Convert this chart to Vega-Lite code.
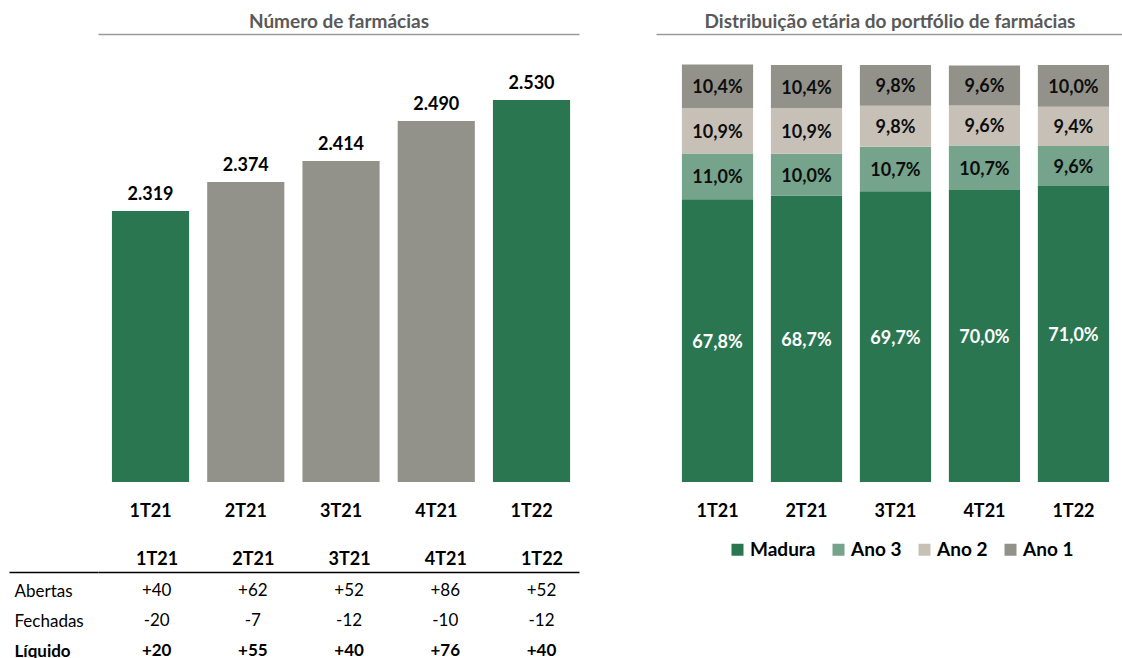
{
  "$schema": "https://vega.github.io/schema/vega-lite/v6.json",
  "padding": {"left": 8, "top": 12, "right": 0, "bottom": 0},
  "background": "white",
  "config": {
    "font": "Lato",
    "view": {"stroke": null},
    "axis": {"grid": false},
    "locale": {"number": {"decimal": ",", "thousands": ".", "grouping": [3], "currency": ["R$ ", ""]}}
  },
  "datasets": {
    "farmacias": [
      {"trimestre": "1T21", "total": 2319},
      {"trimestre": "2T21", "total": 2374},
      {"trimestre": "3T21", "total": 2414},
      {"trimestre": "4T21", "total": 2490},
      {"trimestre": "1T22", "total": 2530}
    ],
    "tabela": [
      {"trimestre": "1T21", "linha": "Abertas", "valor": "+40"},
      {"trimestre": "2T21", "linha": "Abertas", "valor": "+62"},
      {"trimestre": "3T21", "linha": "Abertas", "valor": "+52"},
      {"trimestre": "4T21", "linha": "Abertas", "valor": "+86"},
      {"trimestre": "1T22", "linha": "Abertas", "valor": "+52"},
      {"trimestre": "1T21", "linha": "Fechadas", "valor": "-20"},
      {"trimestre": "2T21", "linha": "Fechadas", "valor": "-7"},
      {"trimestre": "3T21", "linha": "Fechadas", "valor": "-12"},
      {"trimestre": "4T21", "linha": "Fechadas", "valor": "-10"},
      {"trimestre": "1T22", "linha": "Fechadas", "valor": "-12"},
      {"trimestre": "1T21", "linha": "Líquido", "valor": "+20"},
      {"trimestre": "2T21", "linha": "Líquido", "valor": "+55"},
      {"trimestre": "3T21", "linha": "Líquido", "valor": "+40"},
      {"trimestre": "4T21", "linha": "Líquido", "valor": "+76"},
      {"trimestre": "1T22", "linha": "Líquido", "valor": "+40"}
    ],
    "idade": [
      {"trimestre": "1T21", "faixa": "Madura", "pct": 0.678},
      {"trimestre": "1T21", "faixa": "Ano 3", "pct": 0.110},
      {"trimestre": "1T21", "faixa": "Ano 2", "pct": 0.109},
      {"trimestre": "1T21", "faixa": "Ano 1", "pct": 0.104},
      {"trimestre": "2T21", "faixa": "Madura", "pct": 0.687},
      {"trimestre": "2T21", "faixa": "Ano 3", "pct": 0.100},
      {"trimestre": "2T21", "faixa": "Ano 2", "pct": 0.109},
      {"trimestre": "2T21", "faixa": "Ano 1", "pct": 0.104},
      {"trimestre": "3T21", "faixa": "Madura", "pct": 0.697},
      {"trimestre": "3T21", "faixa": "Ano 3", "pct": 0.107},
      {"trimestre": "3T21", "faixa": "Ano 2", "pct": 0.098},
      {"trimestre": "3T21", "faixa": "Ano 1", "pct": 0.098},
      {"trimestre": "4T21", "faixa": "Madura", "pct": 0.700},
      {"trimestre": "4T21", "faixa": "Ano 3", "pct": 0.107},
      {"trimestre": "4T21", "faixa": "Ano 2", "pct": 0.096},
      {"trimestre": "4T21", "faixa": "Ano 1", "pct": 0.096},
      {"trimestre": "1T22", "faixa": "Madura", "pct": 0.710},
      {"trimestre": "1T22", "faixa": "Ano 3", "pct": 0.096},
      {"trimestre": "1T22", "faixa": "Ano 2", "pct": 0.094},
      {"trimestre": "1T22", "faixa": "Ano 1", "pct": 0.100}
    ]
  },
  "spacing": 77,
  "hconcat": [
    {
      "spacing": 30,
      "align": "all",
      "vconcat": [
        {
          "width": 481,
          "height": 448,
          "data": {"name": "farmacias"},
          "layer": [
            {
              "mark": {"type": "bar"},
              "encoding": {
                "x": {"field": "trimestre", "type": "nominal", "sort": null,
                  "scale": {"paddingInner": 0.19, "paddingOuter": 0.12, "align": 0.61},
                  "axis": {"orient": "bottom", "title": null, "ticks": false, "domain": false, "labelAngle": 0,
                    "labelFontSize": 18, "labelFontWeight": "bold", "labelColor": "black", "labelPadding": 20}},
                "y": {"field": "total", "type": "quantitative",
                  "scale": {"domain": [1805, 2655], "zero": false, "nice": false, "clamp": true}, "axis": null},
                "color": {"field": "trimestre", "type": "nominal",
                  "scale": {"domain": ["1T21", "2T21", "3T21", "4T21", "1T22"],
                    "range": ["#2A7650", "#92928A", "#92928A", "#92928A", "#2A7650"]},
                  "legend": null}
              }
            },
            {
              "mark": {"type": "text", "dy": -16, "fontSize": 18, "fontWeight": "bold", "color": "black"},
              "encoding": {
                "x": {"field": "trimestre", "type": "nominal", "sort": null,
                  "axis": {"orient": "top", "title": "Número de farmácias", "labels": false, "ticks": false,
                    "domain": true, "domainColor": "#9A9A9A", "domainWidth": 1.5,
                    "titleFontSize": 19, "titleFontWeight": "bold", "titleColor": "#595959", "titlePadding": 3}},
                "y": {"field": "total", "type": "quantitative"},
                "text": {"field": "total", "type": "quantitative", "format": ",d"}
              }
            }
          ],
          "resolve": {"axis": {"x": "independent"}}
        },
        {
          "width": 481,
          "height": 90,
          "data": {"name": "tabela"},
          "encoding": {
            "x": {"field": "trimestre", "type": "nominal", "sort": null,
              "scale": {"paddingInner": 0.19, "paddingOuter": 0.12, "align": 0.61},
              "axis": {"orient": "top", "title": null, "ticks": false, "domain": true, "domainColor": "black",
                "domainWidth": 1.5, "labelAngle": 0, "labelFontSize": 18, "labelFontWeight": "bold",
                "labelColor": "black", "labelPadding": 4}},
            "y": {"field": "linha", "type": "nominal", "sort": ["Abertas", "Fechadas", "Líquido"],
              "scale": {"type": "band", "paddingInner": 0, "paddingOuter": 0},
              "axis": {"title": null, "domain": false, "ticks": true, "tickSize": 89, "tickBand": "extent",
                "tickWidth": 1.5,
                "tickColor": {"condition": {"test": "datum.index < 0", "value": "black"}, "value": "transparent"},
                "labelAlign": "left", "labelPadding": -5, "labelFontSize": 17, "labelColor": "black",
                "labelFontWeight": {"condition": {"test": "datum.value === 'Líquido'", "value": "bold"}, "value": "normal"},
                "labelOffset": 4, "labelBaseline": "middle"}},
            "text": {"field": "valor", "type": "nominal"}
          },
          "layer": [
            {
              "transform": [{"filter": "datum.linha !== 'Líquido'"}],
              "mark": {"type": "text", "fontSize": 17, "dy": 4, "color": "black"}
            },
            {
              "transform": [{"filter": "datum.linha === 'Líquido'"}],
              "mark": {"type": "text", "fontSize": 17, "fontWeight": "bold", "dy": 4, "color": "black"}
            }
          ]
        }
      ]
    },
    {
      "width": 467,
      "height": 448,
      "data": {"name": "idade"},
      "layer": [
        {
          "mark": {"type": "bar"},
          "encoding": {
            "x": {"field": "trimestre", "type": "nominal", "sort": null,
              "scale": {"paddingInner": 0.2, "paddingOuter": 0.224, "align": 0.65},
              "axis": {"orient": "bottom", "title": null, "ticks": false, "domain": false, "labelAngle": 0,
                "labelFontSize": 18, "labelFontWeight": "bold", "labelColor": "black", "labelPadding": 20}},
            "y": {"field": "pct", "type": "quantitative", "stack": "zero",
              "scale": {"domain": [0, 1.0743], "nice": false}, "axis": null},
            "color": {"field": "faixa", "type": "nominal",
              "scale": {"domain": ["Madura", "Ano 3", "Ano 2", "Ano 1"],
                "range": ["#2A7650", "#75A38B", "#C7C0B6", "#92928A"]},
              "legend": {"orient": "none", "legendX": 72, "legendY": 506, "direction": "horizontal", "title": null,
                "symbolType": "square", "symbolSize": 144, "symbolStrokeWidth": 0, "labelFontSize": 19,
                "labelFontWeight": "bold", "labelColor": "black", "columnPadding": 13, "labelOffset": 3, "padding": 0}}
          }
        },
        {
          "mark": {"type": "text", "fontSize": 18, "fontWeight": "bold", "dy": 2},
          "encoding": {
            "x": {"field": "trimestre", "type": "nominal", "sort": null,
              "axis": {"orient": "top", "title": "Distribuição etária do portfólio de farmácias", "labels": false,
                "ticks": false, "domain": true, "domainColor": "#9A9A9A", "domainWidth": 1.5,
                "titleFontSize": 19, "titleFontWeight": "bold", "titleColor": "#595959", "titlePadding": 3}},
            "y": {"field": "pct", "type": "quantitative", "stack": "zero", "bandPosition": 0.5},
            "text": {"field": "pct", "type": "quantitative", "format": ".1%"},
            "color": {"field": "faixa", "type": "nominal",
              "scale": {"domain": ["Madura", "Ano 3", "Ano 2", "Ano 1"],
                "range": ["#FFFFFF", "#0D0D0D", "#0D0D0D", "#0D0D0D"]},
              "legend": null}
          }
        }
      ],
      "resolve": {"axis": {"x": "independent"}, "scale": {"color": "independent"}}
    }
  ]
}
